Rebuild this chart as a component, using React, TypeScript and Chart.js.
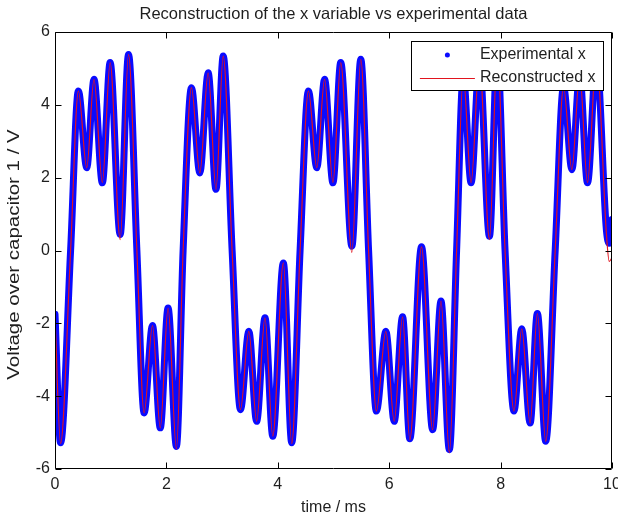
import React, { useEffect, useRef } from "react";
import { Chart, registerables } from "chart.js";

Chart.register(...registerables);

const FONT = "'Liberation Sans', Arial, Helvetica, sans-serif";

// time axis (ms) — extrema and zero crossings
const timeMs = [
  0.0, 0.1, 0.28, 0.42, 0.57, 0.7, 0.85, 0.99, 1.17, 1.32, 1.47,
  1.6, 1.75, 1.89, 2.03, 2.18, 2.3, 2.45, 2.6, 2.75, 2.89, 3.02, 3.18,
  3.33, 3.48, 3.62, 3.77, 3.91, 4.1, 4.25, 4.4, 4.55, 4.7, 4.84, 4.99,
  5.13, 5.33, 5.49, 5.63, 5.77, 5.94, 6.09, 6.24, 6.37, 6.58, 6.78,
  6.93, 7.08, 7.21, 7.33, 7.47, 7.62, 7.8, 7.94, 8.08, 8.24, 8.38,
  8.53, 8.66, 8.81, 8.98, 9.13, 9.28, 9.42, 9.56, 9.72, 9.9, 9.95, 10.0,
];

// experimental x (V)
const experimentalX = [
  -1.75, -5.28, 0.0, 4.38, 2.27, 4.7, 1.86, 5.16, 0.44, 5.38, 0.0,
  -4.46, -2.06, -4.87, -1.58, -5.38, 0.0, 4.47, 2.13, 4.88, 1.68, 5.34, 0.0,
  -4.37, -2.22, -4.69, -1.85, -5.1, -0.34, -5.28, 0.0, 4.38, 2.27, 4.7, 1.86,
  5.16, 0.12, 5.25, 0.0, -4.41, -2.22, -4.69, -1.82, -5.17, 0.1, -4.92,
  -1.39, -5.47, 0.0, 4.8, 1.86, 5.2, 0.39, 5.45, 0.0, -4.41, -2.15,
  -4.74, -1.73, -5.24, 0.0, 4.5, 2.22, 4.85, 1.86, 5.3, 0.55, 0.2, 0.85,
];

// reconstructed x (V)
const reconstructedX = [
  -1.8, -5.3, 0.0, 4.38, 2.27, 4.7, 1.86, 5.16, 0.3, 5.38, 0.0,
  -4.46, -2.06, -4.87, -1.58, -5.45, 0.0, 4.47, 2.13, 4.88, 1.68, 5.34, 0.0,
  -4.37, -2.22, -4.69, -1.85, -5.1, -0.34, -5.3, 0.0, 4.38, 2.27, 4.7, 1.86,
  5.16, -0.05, 5.25, 0.0, -4.41, -2.22, -4.69, -1.82, -5.2, 0.1, -4.92,
  -1.39, -5.55, 0.0, 4.8, 1.86, 5.2, 0.3, 5.45, 0.0, -4.41, -2.15,
  -4.74, -1.73, -5.24, 0.0, 4.5, 2.22, 4.85, 1.86, 5.3, 0.45, -0.3, -0.2,
];

const xTickValues = [0, 2, 4, 6, 8, 10];
const yTickValues = [-6, -4, -2, 0, 2, 4, 6];

const chartTitle = "Reconstruction of the x variable vs experimental data";
const xAxisTitle = "time / ms";
const yAxisTitle = "Voltage over capacitor 1 / V";
const seriesNames = ["Experimental x", "Reconstructed x"];

const BLUE = "rgb(10,10,255)";
const RED = "rgb(225,20,30)";
const TEXT = "#1e1e1e";

const framePlugin = {
  id: "matlabFrame",
  afterDatasetsDraw(chart: any) {
    const { ctx, chartArea: a, scales } = chart;
    const xs = scales.x;
    const ys = scales.y;
    ctx.save();
    ctx.strokeStyle = "#000";
    ctx.lineWidth = 1;
    const L = Math.round(a.left) + 0.5;
    const R = Math.round(a.right) - 0.5;
    const T = Math.round(a.top) + 0.5;
    const B = Math.round(a.bottom) - 0.5;
    ctx.beginPath();
    ctx.rect(L, T, R - L, B - T);
    ctx.stroke();
    const tl = 6;
    ctx.beginPath();
    xTickValues.forEach((v) => {
      const p = Math.round(xs.getPixelForValue(v)) + 0.5;
      ctx.moveTo(p, B);
      ctx.lineTo(p, B - tl);
      ctx.moveTo(p, T);
      ctx.lineTo(p, T + tl);
    });
    yTickValues.forEach((v) => {
      const p = Math.round(ys.getPixelForValue(v)) + 0.5;
      ctx.moveTo(L, p);
      ctx.lineTo(L + tl, p);
      ctx.moveTo(R, p);
      ctx.lineTo(R - tl, p);
    });
    ctx.stroke();

    // legend box
    ctx.font = `16px ${FONT}`;
    const textW = Math.max(...seriesNames.map((s) => ctx.measureText(s).width));
    const boxRight = Math.round(a.right) - 9 + 0.5;
    const boxTop = Math.round(a.top) + 9 + 0.5;
    const textX = boxRight - 8 - textW;
    const lineEnd = textX - 5;
    const lineStart = lineEnd - 55;
    const boxLeft = Math.round(lineStart - 9) + 0.5;
    const boxH = 49;
    ctx.fillStyle = "#fff";
    ctx.fillRect(boxLeft, boxTop, boxRight - boxLeft, boxH);
    ctx.strokeStyle = "#000";
    ctx.strokeRect(boxLeft, boxTop, boxRight - boxLeft, boxH);
    const row1 = boxTop + 13.5;
    const row2 = boxTop + 36;
    ctx.fillStyle = BLUE;
    ctx.beginPath();
    ctx.arc((lineStart + lineEnd) / 2, row1, 2.5, 0, Math.PI * 2);
    ctx.fill();
    ctx.strokeStyle = RED;
    ctx.beginPath();
    ctx.moveTo(lineStart, Math.round(row2) + 0.5);
    ctx.lineTo(lineEnd, Math.round(row2) + 0.5);
    ctx.stroke();
    ctx.fillStyle = TEXT;
    ctx.textBaseline = "middle";
    ctx.textAlign = "left";
    ctx.fillText(seriesNames[0], textX, row1);
    ctx.fillText(seriesNames[1], textX, row2);

    // title, centred over the plot area
    ctx.font = `16.5px ${FONT}`;
    ctx.textAlign = "center";
    ctx.fillText(chartTitle, (a.left + a.right) / 2, 14);

    // y-axis title (stretched along its length like the reference)
    ctx.save();
    ctx.font = `16px ${FONT}`;
    ctx.translate(15, (a.top + a.bottom) / 2 + 4);
    ctx.rotate(-Math.PI / 2);
    ctx.scale(1.28, 1);
    ctx.fillText(yAxisTitle, 0, 0);
    ctx.restore();
    ctx.restore();
  },
};

export default function App() {
  const ref = useRef<HTMLCanvasElement | null>(null);
  useEffect(() => {
    if (!ref.current) return;
    const font = { family: FONT, size: 16, weight: "normal" as const };
    const chart = new Chart(ref.current, {
      type: "line",
      data: {
        datasets: [
          {
            label: seriesNames[0],
            data: timeMs.map((t, i) => ({ x: t, y: experimentalX[i] })),
            borderColor: BLUE,
            borderWidth: 7,
            borderJoinStyle: "round",
            borderCapStyle: "round",
            pointRadius: 0,
            cubicInterpolationMode: "monotone",
            fill: false,
            order: 2,
          },
          {
            label: seriesNames[1],
            data: timeMs.map((t, i) => ({ x: t, y: reconstructedX[i] })),
            borderColor: RED,
            borderWidth: 1.2,
            pointRadius: 0,
            cubicInterpolationMode: "monotone",
            fill: false,
            order: 1,
          },
        ],
      },
      options: {
        responsive: false,
        animation: false,
        devicePixelRatio: 1,
        layout: { padding: { left: 0, right: 6, top: 32, bottom: 0 } },
        plugins: {
          legend: { display: false },
          tooltip: { enabled: false },
          title: { display: false },
        },
        scales: {
          x: {
            type: "linear",
            min: 0,
            max: 10,
            grid: { display: false, drawTicks: false },
            border: { display: false },
            ticks: {
              stepSize: 2,
              padding: 6,
              font,
              color: TEXT,
              maxRotation: 0,
              autoSkip: false,
            },
            title: {
              display: true,
              text: xAxisTitle,
              font,
              color: TEXT,
              padding: { top: 4, bottom: 4 },
            },
            afterFit(s: any) {
              s.height = 52;
              s.paddingLeft = 0;
              s.paddingRight = 0;
            },
          },
          y: {
            type: "linear",
            min: -6,
            max: 6,
            grid: { display: false, drawTicks: false },
            border: { display: false },
            ticks: { stepSize: 2, padding: 5, font, color: TEXT },
            title: { display: false, text: yAxisTitle },
            afterFit(s: any) {
              s.width = 55;
              s.paddingTop = 0;
              s.paddingBottom = 0;
            },
          },
        },
      },
      plugins: [framePlugin],
    });
    return () => chart.destroy();
  }, []);
  return (
    <div style={{ position: "fixed", left: 0, top: 0, width: 618, height: 521, background: "#fff" }}>
      <canvas ref={ref} width={618} height={521} style={{ display: "block" }} />
    </div>
  );
}
